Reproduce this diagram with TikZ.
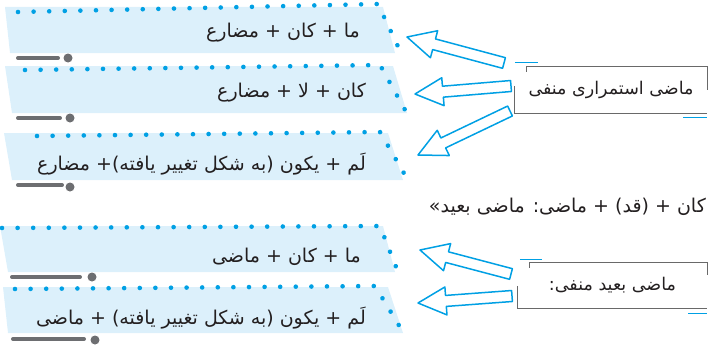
\documentclass[tikz,border=0pt]{standalone}
\usepackage{fontspec}
\newfontfamily\arabicfont[Script=Arabic]{DejaVu Sans}
\TeXXeTstate=1
\usetikzlibrary{calc,decorations.markings}
\definecolor{dotblue}{RGB}{0,160,228}
\definecolor{bandblue}{RGB}{220,240,251}
\definecolor{bargray}{RGB}{109,110,113}
\definecolor{txt}{RGB}{35,31,32}
\definecolor{framegray}{RGB}{105,105,105}
\newcommand\blockarr[2]{%
  \coordinate (hb) at ($(#1)!28pt!(#2)$);
  \draw[arr] (#1) -- ($(hb)!14pt!90:(#2)$) -- ($(hb)!5.5pt!90:(#2)$) -- ($(#2)!5.5pt!-90:(hb)$)
    -- ($(#2)!5.5pt!90:(hb)$) -- ($(hb)!5.5pt!-90:(#2)$) -- ($(hb)!14pt!-90:(#2)$) -- cycle;}
\begin{document}
\begin{tikzpicture}[x=1pt,y=-1pt,
  band/.style={fill=bandblue, draw=none},
  dotline/.style={decorate, decoration={markings,
     mark=between positions 0 and 1 step 15.6pt with {\fill[dotblue] (0,0) circle (2.3pt);}}},
  bar/.style={bargray, line width=4pt, line cap=round},
  bardot/.style={fill=bargray, draw=none},
  txtnode/.style={font=\arabicfont\fontsize{19}{22}\selectfont, text=txt, inner sep=0pt},
  labtxt/.style={font=\arabicfont\fontsize{17.5}{21}\selectfont, text=txt, inner sep=0pt},
  arr/.style={draw=dotblue, fill=white, line width=1.5pt, line join=round},
  frame/.style={framegray, line width=1.3pt},
  bluetick/.style={dotblue, line width=1pt},
  labelbox/.style={labtxt, minimum width=192pt, minimum height=46pt}]
\useasboundingbox (0,0) rectangle (708,345);
\clip (0,0) rectangle (708,345);

% bands
\path[band] (5,7) -- (383,7) -- (395,53) -- (10,53) -- cycle;
\path[band] (5,66) -- (393,66) -- (407,113) -- (12,113) -- cycle;
\path[band] (4,133) -- (388,133) -- (403,180) -- (12,180) -- cycle;
\path[band] (0,226) -- (383,226) -- (395,272) -- (8,272) -- cycle;
\path[band] (3,287) -- (388,287) -- (403,333) -- (8,333) -- cycle;

% dotted borders
\path[dotline] (18,12) -- (378,4) -- (402,55);
\path[dotline] (25,70) -- (380,65) -- (409,117);
\path[dotline] (37,136) -- (380,132) -- (409,182);
\path[dotline] (2,228) -- (380,226) -- (398,272);
\path[dotline] (15,289) -- (375,286) -- (406,337);

% gray bars
\draw[bar] (18,58) -- (58,58);  \fill[bardot] (68,58) circle (4.5);
\draw[bar] (18,118) -- (60,118); \fill[bardot] (70,118) circle (4.5);
\draw[bar] (18,185) -- (62,185); \fill[bardot] (70,187) circle (4.5);
\draw[bar] (12,277) -- (80,277); \fill[bardot] (92,277) circle (4.5);
\draw[bar] (13,339) -- (84,339); \fill[bardot] (95,340) circle (4.5);

% texts in bands
\node[txtnode, anchor=east] (t1) at (360,33) {\beginR ما + کان + مضارع\endR};
\node[txtnode, anchor=east] (t2) at (366,93) {\beginR کان + لا + مضارع\endR};
\node[txtnode, anchor=east] (t3) at (366,164) {\beginR لَم + یکون (به شکل تغییر یافته)+ مضارع\endR};
\node[txtnode, anchor=east] (t4) at (361,257) {\beginR ما + کان + ماضی\endR};
\node[txtnode, anchor=east] (t5) at (366,318) {\beginR لَم + یکون (به شکل تغییر یافته) + ماضی\endR};

% loose line of text
\node[txtnode, anchor=east] (t6) at (706,207) {»\beginR کان + (قد) + ماضی: ماضی بعید\endR};

% label boxes
\node[labelbox] (l1) at (611,90) {\beginR ماضی استمراری منفی\endR};
\node[labelbox, minimum width=189pt, minimum height=45pt] (l2) at (612.5,285.5) {\beginR ماضی بعید منفی:\endR};

\draw[frame] ($(l1.north west)+(12,5)$) -- ($(l1.north west)+(12,0)$) -- (l1.north east) -- ($(l1.north east)+(0,23)$);
\draw[frame] ($(l1.north west)+(0,19)$) -- (l1.south west) -- (l1.south east);
\draw[bluetick] ($(l1.north west)+(0,-4)$) -- ($(l1.north west)+(23,-4)$);
\draw[bluetick] ($(l1.south east)+(-24,4)$) -- ($(l1.south east)+(0,4)$);

\draw[frame] ($(l2.north west)+(12,5)$) -- ($(l2.north west)+(12,0)$) -- (l2.north east) -- ($(l2.north east)+(0,12)$);
\draw[frame] ($(l2.north west)+(0,23)$) -- (l2.south west) -- (l2.south east);
\draw[bluetick] ($(l2.north west)+(2,-3)$) -- ($(l2.north west)+(24,-3)$);
\draw[bluetick] ($(l2.south east)+(-19,5)$) -- ($(l2.south east)+(0,5)$);

% arrows
\coordinate (a1tip) at (407,37);  \coordinate (a1tail) at (504,63);
\coordinate (a2tip) at (415,94);  \coordinate (a2tail) at (511,86);
\coordinate (a3tip) at (418,155); \coordinate (a3tail) at (510,111);
\coordinate (a4tip) at (420,250); \coordinate (a4tail) at (511,274);
\coordinate (a5tip) at (418,303); \coordinate (a5tail) at (512,296);
\blockarr{a1tip}{a1tail}
\blockarr{a2tip}{a2tail}
\blockarr{a3tip}{a3tail}
\blockarr{a4tip}{a4tail}
\blockarr{a5tip}{a5tail}
\end{tikzpicture}
\end{document}
